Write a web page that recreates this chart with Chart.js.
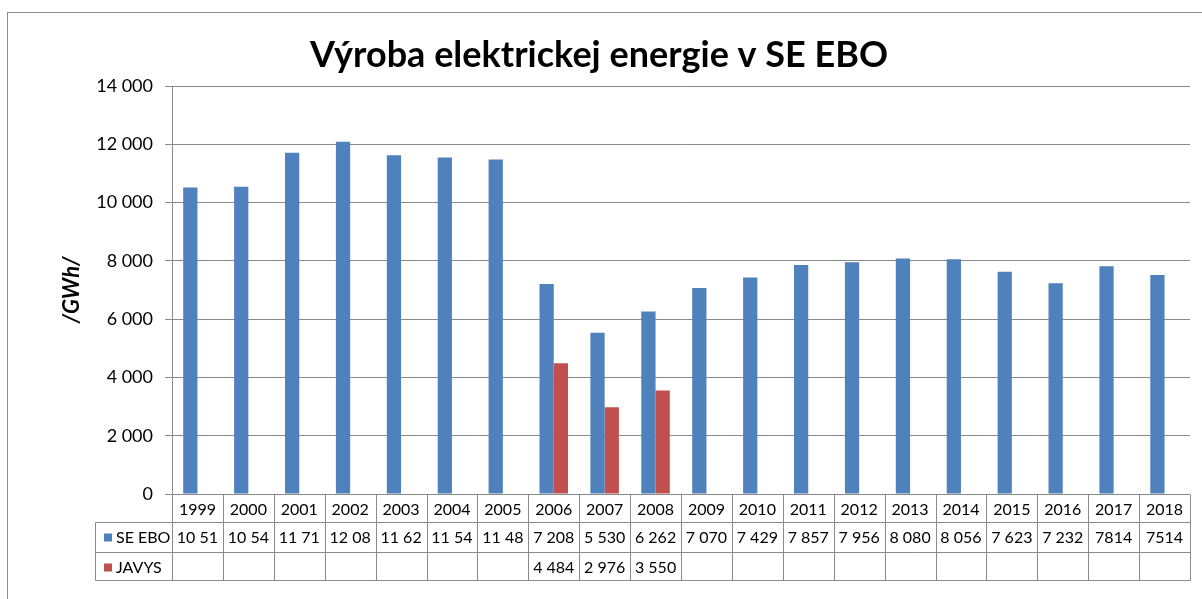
<!DOCTYPE html>
<html>
<head>
<meta charset="utf-8">
<script src="https://cdn.jsdelivr.net/npm/chart.js@4"></script>
<style>
  body { margin: 0; background: #fff; }
  canvas { display: block; }
</style>
</head>
<body>
<canvas id="myChart" width="1202" height="599"></canvas>
<script>
const years = ["1999","2000","2001","2002","2003","2004","2005","2006","2007","2008","2009","2010","2011","2012","2013","2014","2015","2016","2017","2018"];
const seEbo = [10514, 10543, 11712, 12083, 11621, 11545, 11482, 7208, 5530, 6262, 7070, 7429, 7857, 7956, 8080, 8056, 7623, 7232, 7814, 7514];
const javys = [null, null, null, null, null, null, null, 4484, 2976, 3550, null, null, null, null, null, null, null, null, null, null];
// the last two years are written without a space in the source table
const noSpace = ["2017", "2018"];

const fontFam = "Lato, 'Liberation Sans', sans-serif";
const gridColor = "#8a8a8a";

function fmt(v){
  return String(v).replace(/\B(?=(\d{3})+(?!\d))/g, " ");
}

// outer frame + data table under the plot
const tablePlugin = {
  id: "dataTable",
  beforeDraw(chart){
    const c = chart.ctx;
    c.save();
    c.fillStyle = "#fff";
    c.fillRect(0, 0, chart.width, chart.height);
    c.strokeStyle = "#8c8c8c";
    c.lineWidth = 1;
    c.strokeRect(7.5, 12.5, chart.width + 10, chart.height + 10);
    c.restore();
  },
  afterDraw(chart){
    const c = chart.ctx;
    const xs = chart.scales.x;
    const area = chart.chartArea;
    const colW = (area.right - area.left) / years.length;
    const top = Math.round(area.bottom) + 0.5;
    const r1 = top + 28, r2 = r1 + 30, r3 = r2 + 28;
    const legL = 95.5;
    c.save();
    c.strokeStyle = gridColor;
    c.lineWidth = 1;
    c.beginPath();
    // vertical lines of the years row and value rows
    for (let i = 0; i <= years.length; i++){
      const x = Math.round(area.left + i * colW) + 0.5;
      c.moveTo(x, top); c.lineTo(x, r3);
    }
    c.moveTo(legL, r1); c.lineTo(legL, r3);
    [r1, r2, r3].forEach(y => { c.moveTo(legL, y); c.lineTo(Math.round(area.right) + 0.5, y); });
    c.stroke();

    c.font = "16px " + fontFam;
    c.fillStyle = "#000";
    c.textBaseline = "middle";
    const rows = [[seEbo, r1, "#4F81BD", "SE EBO"], [javys, r2, "#C0504D", "JAVYS"]];
    rows.forEach(([vals, y0, col, name]) => {
      const cy = y0 + 15;
      c.fillStyle = col;
      c.fillRect(104, cy - 4, 8, 8);
      c.fillStyle = "#000";
      c.textAlign = "left";
      c.fillText(name, 116, cy);
      vals.forEach((v, i) => {
        if (v === null) return;
        const cx = xs.getPixelForValue(i);
        const left = area.left + i * colW;
        let txt = noSpace.includes(years[i]) ? String(v) : fmt(v);
        // cut characters that do not fit in the cell, like the spreadsheet does
        while (txt.length > 1 && c.measureText(txt).width > colW - 5) txt = txt.slice(0, -1);
        c.textAlign = "center";
        c.fillText(txt, cx, cy);
      });
    });
    c.restore();
  }
};

const ctx = document.getElementById("myChart");
new Chart(ctx, {
  type: "bar",
  data: {
    labels: years,
    datasets: [
      { label: "SE EBO", data: seEbo, backgroundColor: "#4F81BD", borderWidth: 0 },
      { label: "JAVYS", data: javys, backgroundColor: "#C0504D", borderWidth: 0 }
    ]
  },
  options: {
    responsive: false,
    animation: false,
    layout: { padding: { top: 20, left: 8, right: 12, bottom: 77 }, autoPadding: false },
    datasets: { bar: { categoryPercentage: 0.56, barPercentage: 1 } },
    plugins: {
      legend: { display: false },
      tooltip: { enabled: false },
      title: {
        display: true,
        text: "Výroba elektrickej energie v SE EBO",
        color: "#000",
        font: { family: fontFam, size: 36, weight: "bold", lineHeight: 1 },
        padding: { top: 17, bottom: 13 }
      }
    },
    scales: {
      x: {
        grid: { display: false, drawTicks: false },
        border: { display: false },
        ticks: { color: "#000", font: { family: fontFam, size: 16 }, padding: 6, maxRotation: 0, autoSkip: false },
        afterFit(s){ s.height = 28; }
      },
      y: {
        min: 0, max: 14000,
        ticks: { stepSize: 2000, color: "#000", font: { family: fontFam, size: 18 }, padding: 12, callback: v => fmt(v) },
        grid: { color: gridColor, tickLength: 7, tickColor: gridColor },
        border: { display: true, color: gridColor },
        title: { display: true, text: "/GWh/", color: "#000", font: { family: fontFam, size: 22, weight: "bold", style: "italic", lineHeight: 1.2 }, padding: { top: 51, bottom: 0 } },
        afterFit(s){ s.width = 164; }
      }
    }
  },
  plugins: [tablePlugin]
});
</script>
</body>
</html>
